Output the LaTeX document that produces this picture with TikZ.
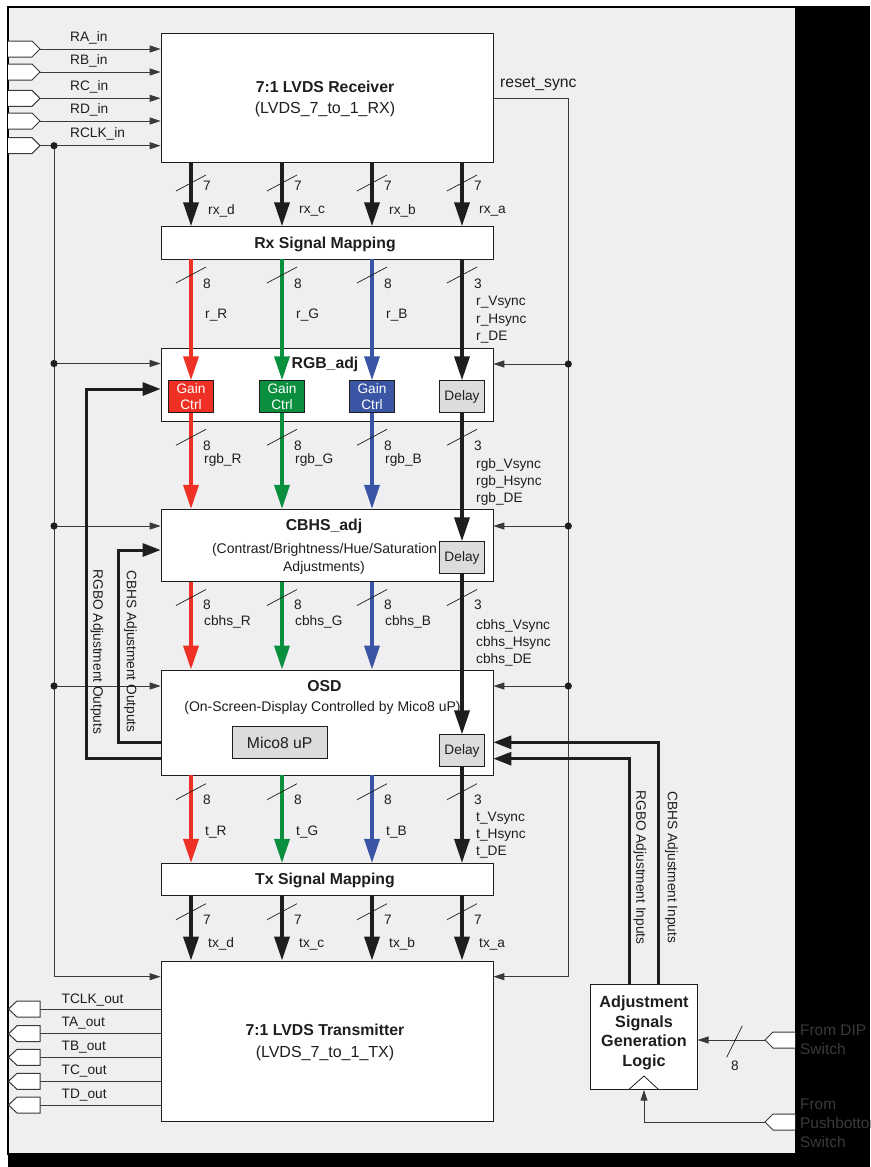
\documentclass[tikz,border=0pt]{standalone}
\usepackage{fontspec}
\setmainfont{Liberation Sans}
\usetikzlibrary{arrows.meta}
\definecolor{panel}{HTML}{EFEFF1}
\definecolor{ink}{HTML}{1E1E1E}
\definecolor{wirec}{HTML}{3A3A3A}
\definecolor{colR}{HTML}{EE3124}
\definecolor{colG}{HTML}{0A8F3F}
\definecolor{colB}{HTML}{3A55A4}
\definecolor{dfill}{HTML}{DCDCDC}
\definecolor{dimtext}{HTML}{3A3A3A}
\newcommand{\myfs}[2]{\fontsize{#1}{#2}\selectfont}
\tikzset{
 box/.style={draw=ink, fill=white, line width=0.8pt, inner sep=0pt, minimum width=332pt},
 sbox/.style={draw=ink, line width=0.8pt, inner sep=0pt, minimum width=45pt, minimum height=32pt, align=center, font=\myfs{13.7}{15.7}},
 ttl/.style={font=\myfs{15.8}{18}\bfseries, text=ink, inner sep=0pt},
 subt/.style={font=\myfs{14}{17}, text=ink, inner sep=0pt},
 lbl/.style={font=\myfs{13.7}{16}, text=ink, inner sep=0pt, anchor=west},
 rlbl/.style={font=\myfs{13.7}{16}, text=ink, inner sep=0pt, rotate=-90},
 wire/.style={draw=wirec, line width=1pt},
 sig/.style={draw=wirec, line width=1pt, -{Triangle[length=11pt,width=7pt]}},
 bus/.style={line width=3.5pt, -{Triangle[length=24pt,width=15pt]}},
 adjl/.style={draw=ink, line width=3pt, -{Triangle[length=18pt,width=13pt]}},
 slashmk/.style={draw=ink, line width=0.7pt},
 port/.style={draw=wirec, fill=white, line width=1pt},
}
\begin{document}
\begin{tikzpicture}[x=1pt,y=-1pt]
\useasboundingbox (0,0) rectangle (870,1167);
\fill[white] (0,0) rectangle (870,1167);
\fill[black] (796,6) rectangle (870,1167);
\fill[black] (8,1154) rectangle (870,1167);
\filldraw[fill=panel, draw=black, line width=1.3pt] (8,7) rectangle (796,1154);

% main boxes
\node[box, minimum height=129pt] (rx) at (327,97.5) {};
\node[box, minimum height=32.3pt] (rxmap) at (327,242.8) {};
\node[box, minimum height=72.7pt] (rgb) at (327,384.6) {};
\node[box, minimum height=72.4pt] (cbhs) at (327,545.5) {};
\node[box, minimum height=105pt] (osd) at (327,722.5) {};
\node[box, minimum height=31.7pt] (txmap) at (327,879.2) {};
\node[box, minimum height=160.7pt] (tx) at (327,1041.3) {};
\node[box, minimum width=106.3pt, minimum height=104.6pt] (adjbox) at (644,1037) {};

% small boxes
\node[sbox, fill=colR, text=white] (gR) at (191,396.7) {Gain\\Ctrl};
\node[sbox, fill=colG, text=white] (gG) at (282,396.7) {Gain\\Ctrl};
\node[sbox, fill=colB, text=white] (gB) at (372,396.7) {Gain\\Ctrl};
\node[sbox, fill=dfill, text=ink] (d1) at (462,396.7) {Delay};
\node[sbox, fill=dfill, text=ink] (d2) at (462,557.7) {Delay};
\node[sbox, fill=dfill, text=ink] (d3) at (462,750.8) {Delay};
\node[sbox, fill=dfill, text=ink, minimum width=95.3pt, minimum height=31.6pt, font=\myfs{15.7}{18}] (mico) at (279.7,742.5) {Mico8 uP};

% titles
\node[ttl] (t1) at (325,87.3) {7:1 LVDS Receiver};
\node[subt, font=\myfs{16}{18}] (t1s) at (325,109.3) {(LVDS\_7\_to\_1\_RX)};
\node[ttl] (t2) at (325,244) {Rx Signal Mapping};
\node[ttl] (t3) at (325,364) {RGB\_adj};
\node[ttl] (t4) at (324,526) {CBHS\_adj};
\node[subt] (t4s) at (324.5,550) {(Contrast/Brightness/Hue/Saturation};
\node[subt] (t4t) at (324,567.7) {Adjustments)};
\node[ttl] (t5) at (324.5,686) {OSD};
\node[subt] (t5s) at (322.5,708) {(On-Screen-Display Controlled by Mico8 uP)};
\node[ttl] (t6) at (325,880) {Tx Signal Mapping};
\node[ttl] (t7) at (325,1030) {7:1 LVDS Transmitter};
\node[subt, font=\myfs{16}{18}] (t7s) at (325,1053) {(LVDS\_7\_to\_1\_TX)};
\node[font=\myfs{16.2}{19.5}\bfseries, text=ink, align=center, inner sep=0pt] (adjt) at (644,1033) {Adjustment\\Signals\\Generation\\Logic};
\draw[draw=ink, line width=0.8pt] (629,1089.3) -- (644,1076) -- (658.3,1089.3);

% input ports
\foreach \y/\n [count=\i] in {49/RA\_in, 72/RB\_in, 98.3/RC\_in, 121/RD\_in, 145.7/RCLK\_in} {
  \draw[port] (8,\y-8) -- (32,\y-8) -- (40,\y) -- (32,\y+8) -- (8,\y+8);
  \coordinate (in\i) at (40,\y);
  \draw[sig] (in\i) -- (in\i -| rx.west);
  \node[lbl] (inl\i) at (70,\y-11.5) {\n};
}

% clock distribution
\coordinate (ck) at (54,145.7);
\coordinate (ck1) at (54,363.5);
\coordinate (ck2) at (54,526);
\coordinate (ck3) at (54,686);
\coordinate (ck4) at (54,976.7);
\draw[sig] (ck) -- (ck4) -- (ck4 -| tx.west);
\draw[sig] (ck1) -- (ck1 -| rgb.west);
\draw[sig] (ck2) -- (ck2 -| cbhs.west);
\draw[sig] (ck3) -- (ck3 -| osd.west);
\foreach \c in {ck,ck1,ck2,ck3} \fill[ink] (\c) circle (3.6pt);

% reset distribution
\coordinate (rs0) at (568.3,98.3);
\coordinate (rs1) at (568.3,364);
\coordinate (rs2) at (568.3,526);
\coordinate (rs3) at (568.3,686);
\coordinate (rs4) at (568.3,976.7);
\draw[wire] (rx.east |- rs0) -- (rs0);
\draw[sig] (rs0) -- (rs4) -- (rs4 -| tx.east);
\draw[sig] (rs1) -- (rs1 -| rgb.east);
\draw[sig] (rs2) -- (rs2 -| cbhs.east);
\draw[sig] (rs3) -- (rs3 -| osd.east);
\foreach \c in {rs1,rs2,rs3} \fill[ink] (\c) circle (3.6pt);
\node[lbl, font=\myfs{15.8}{18}] (rsl) at (500,84.3) {reset\_sync};

% adjustment loops
\coordinate (ai1) at (629,758.7);
\coordinate (ai2) at (658.3,742.3);
\draw[adjl] (ai1 |- adjbox.north) -- (ai1) -- (ai1 -| osd.east);
\draw[adjl] (ai2 |- adjbox.north) -- (ai2) -- (ai2 -| osd.east);
\coordinate (ao1) at (86,758.3);
\coordinate (ao1t) at (86,389);
\coordinate (ao2) at (118,742.7);
\coordinate (ao2t) at (118,550);
\draw[adjl] (ao1 -| osd.west) -- (ao1) -- (ao1t) -- (ao1t -| rgb.west);
\draw[adjl] (ao2 -| osd.west) -- (ao2) -- (ao2t) -- (ao2t -| cbhs.west);
\node[rlbl] (rl1) at (97,652) {RGBO Adjustment Outputs};
\node[rlbl] (rl2) at (130.5,651.5) {CBHS Adjustment Outputs};
\node[rlbl] (rl3) at (640,867.5) {RGBO Adjustment Inputs};
\node[rlbl] (rl4) at (671.5,867.5) {CBHS Adjustment Inputs};

% row A: receiver -> rx mapping
\foreach \x/\n in {191/rx\_d, 282/rx\_c, 372/rx\_b, 462/rx\_a} {
  \draw[bus, draw=ink] (\x,0 |- rx.south) -- (\x,0 |- rxmap.north);
  \draw[slashmk] (\x-15,191) -- (\x+15,175);
  \node[lbl] at (\x+12,186) {7};
  \node[lbl] at (\x+17,210.7) {\n};
}
% row B: rx mapping -> RGB_adj
\foreach \x/\c/\g/\n in {191/colR/gR/r\_R, 282/colG/gG/r\_G, 372/colB/gB/r\_B} {
  \draw[bus, draw=\c] (\x,0 |- rxmap.south) -- (\g.north);
  \draw[slashmk] (\x-15,283) -- (\x+15,267);
  \node[lbl] at (\x+12,283.3) {8};
  \node[lbl] at (\x+14,315) {\n};
}
\draw[bus, draw=ink] (462,0 |- rxmap.south) -- (d1.north);
\draw[slashmk] (447,283) -- (477,267);
\node[lbl] at (474,283.3) {3};
\node[lbl] at (476,302.7) {r\_Vsync};
\node[lbl] at (476,320.7) {r\_Hsync};
\node[lbl] at (476,336.7) {r\_DE};
% row C: RGB_adj -> CBHS_adj
\foreach \x/\c/\g/\n in {191/colR/gR/rgb\_R, 282/colG/gG/rgb\_G, 372/colB/gB/rgb\_B} {
  \draw[bus, draw=\c] (\g.south) -- (\x,0 |- cbhs.north);
  \draw[slashmk] (\x-15,445.3) -- (\x+15,429.3);
  \node[lbl] at (\x+12,445.3) {8};
  \node[lbl] at (\x+13,460) {\n};
}
\draw[bus, draw=ink] (d1.south) -- (d2.north);
\draw[slashmk] (447,445.3) -- (477,429.3);
\node[lbl] at (474,445.3) {3};
\node[lbl] at (476,464.7) {rgb\_Vsync};
\node[lbl] at (476,481.7) {rgb\_Hsync};
\node[lbl] at (476,499.3) {rgb\_DE};
% row D: CBHS_adj -> OSD
\foreach \x/\c/\n in {191/colR/cbhs\_R, 282/colG/cbhs\_G, 372/colB/cbhs\_B} {
  \draw[bus, draw=\c] (\x,0 |- cbhs.south) -- (\x,0 |- osd.north);
  \draw[slashmk] (\x-15,605.5) -- (\x+15,589.5);
  \node[lbl] at (\x+12,605) {8};
  \node[lbl] at (\x+13,621.7) {\n};
}
\draw[bus, draw=ink] (d2.south) -- (d3.north);
\draw[slashmk] (447,605.5) -- (477,589.5);
\node[lbl] at (474,605) {3};
\node[lbl] at (476,626) {cbhs\_Vsync};
\node[lbl] at (476,643) {cbhs\_Hsync};
\node[lbl] at (476,659.5) {cbhs\_DE};
% row E: OSD -> tx mapping
\foreach \x/\c/\n in {191/colR/t\_R, 282/colG/t\_G, 372/colB/t\_B} {
  \draw[bus, draw=\c] (\x,0 |- osd.south) -- (\x,0 |- txmap.north);
  \draw[slashmk] (\x-15,799.7) -- (\x+15,783.7);
  \node[lbl] at (\x+12,799.3) {8};
  \node[lbl] at (\x+14,831.7) {\n};
}
\draw[bus, draw=ink] (d3.south) -- (462,0 |- txmap.north);
\draw[slashmk] (447,799.7) -- (477,783.7);
\node[lbl] at (474,799.3) {3};
\node[lbl] at (476,818.3) {t\_Vsync};
\node[lbl] at (476,835) {t\_Hsync};
\node[lbl] at (476,852.5) {t\_DE};
% row F: tx mapping -> transmitter
\foreach \x/\n in {191/tx\_d, 282/tx\_c, 372/tx\_b, 462/tx\_a} {
  \draw[bus, draw=ink] (\x,0 |- txmap.south) -- (\x,0 |- tx.north);
  \draw[slashmk] (\x-15,919.7) -- (\x+15,903.7);
  \node[lbl] at (\x+12,919.3) {7};
  \node[lbl] at (\x+17,944.3) {\n};
}

% output ports
\foreach \y/\n/\ly [count=\i] in {1009/TCLK\_out/1000, 1033.7/TA\_out/1022.7, 1057.3/TB\_out/1046.7, 1081.3/TC\_out/1070.7, 1105/TD\_out/1095.3} {
  \coordinate (out\i) at (40,\y);
  \draw[wire] (out\i -| tx.west) -- (out\i);
  \draw[port] (40,\y-8) -- (17,\y-8) -- (8.5,\y) -- (17,\y+8) -- (40,\y+8) -- cycle;
  \node[lbl] (outl\i) at (61.5,\ly) {\n};
}

% switch inputs
\coordinate (dip) at (765,1040);
\draw[port] (795,1032) -- (773,1032) -- (765,1040) -- (773,1048) -- (795,1048);
\draw[sig] (dip) -- (dip -| adjbox.east);
\draw[slashmk] (726.7,1057.3) -- (742.3,1025.7);
\node[font=\myfs{13.7}{16}, text=ink, inner sep=0pt] (n8) at (735,1065.5) {8};
\coordinate (pb) at (765,1122);
\draw[port] (795,1114) -- (773,1114) -- (765,1122) -- (773,1130) -- (795,1130);
\draw[sig] (pb) -- (pb -| adjbox.south) -- (adjbox.south);
\node[lbl, text=dimtext, font=\myfs{15.4}{18}] (f1) at (800,1030.7) {From DIP};
\node[lbl, text=dimtext, font=\myfs{15.4}{18}] (f2) at (800,1049.3) {Switch};
\node[lbl, text=dimtext, font=\myfs{15.4}{18}] (f3) at (800,1104) {From};
\node[lbl, text=dimtext, font=\myfs{15.4}{18}] (f4) at (800,1122.7) {Pushbotton};
\node[lbl, text=dimtext, font=\myfs{15.4}{18}] (f5) at (800,1142.3) {Switch};
\end{tikzpicture}
\end{document}
